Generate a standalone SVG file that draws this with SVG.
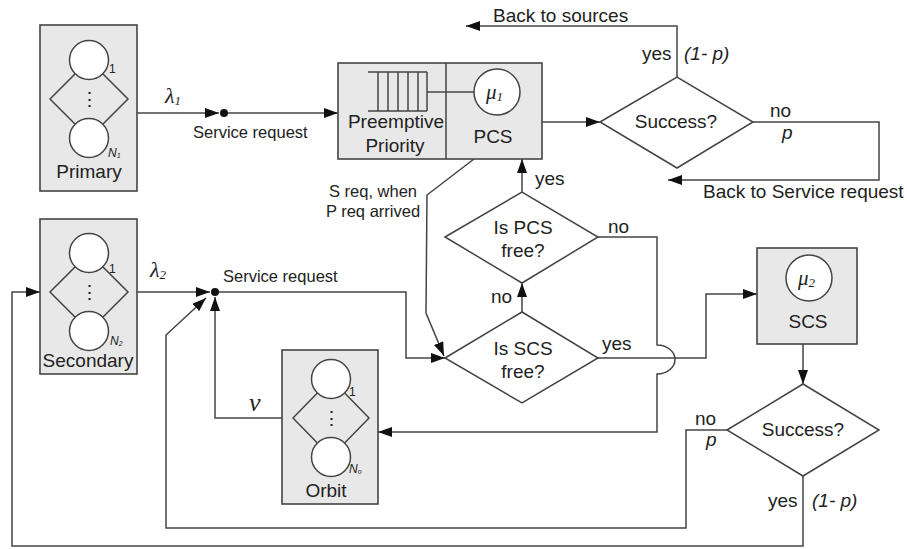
<svg xmlns="http://www.w3.org/2000/svg" width="907" height="549" viewBox="0 0 907 549">
<defs>
<marker id="ar" viewBox="0 0 14 10" refX="14" refY="5" markerWidth="14" markerHeight="10" markerUnits="userSpaceOnUse" orient="auto">
<path d="M0,0 L14,5 L0,10 z" fill="#111"/>
</marker>
<style>
.box{fill:#e8e8e8;stroke:#444;stroke-width:1.6}
.c{fill:#fff;stroke:#444;stroke-width:1.5}
.dm{fill:none;stroke:#444;stroke-width:1.5}
.ln{fill:none;stroke:#444;stroke-width:1.5}
.ar{marker-end:url(#ar)}
.t{font-family:"Liberation Sans",Arial,sans-serif;font-size:19px;fill:#222}
.s{font-size:16.5px}
.m{text-anchor:middle}
.i{font-style:italic}
.g{font-family:"Liberation Serif","Times New Roman",serif;font-style:italic;fill:#222}
.sm{font-family:"Liberation Sans",Arial,sans-serif;font-size:12px;fill:#222}
</style>
</defs>
<rect width="907" height="549" fill="#fff"/>

<g id="connectors">
<polyline class="ln ar" points="137,113 219,113"/>
<polyline class="ln ar" points="224,113 338,113"/>
<polyline class="ln ar" points="542,122 600,122"/>
<polyline class="ln ar" points="677,77 677,26 466,26"/>
<polyline class="ln ar" points="753,122 879,122 879,180 668,180"/>
<polyline class="ln ar" points="522,192 522,159"/>
<polyline class="ln ar" points="522,312 522,283"/>
<path class="ln ar" d="M598,237 H657 V345 A18,14.5 0 0 1 657,374 V432 H378"/>
<polyline class="ln ar" points="598,358 706,358 706,294 757,294"/>
<polyline class="ln ar" points="803,344 803,384"/>
<polyline class="ln ar" points="727,430 686,430 686,528 166,528 166,335 206,298"/>
<polyline class="ln ar" points="803,476 803,546 12,546 12,292 40,292"/>
<polyline class="ln ar" points="128,292 210,292"/>
<polyline class="ln ar" points="215,292 406,292 406,358 445,358"/>
<polyline class="ln ar" points="293,418 215,418 215,297"/>
<polyline class="ln ar" points="474,159 427,195 426,313 444,356"/>
<circle cx="224" cy="113" r="4" fill="#111"/>
<circle cx="215" cy="292" r="4" fill="#111"/>
<text class="t s" x="193" y="138">Service request</text>
<text class="t s" x="223" y="282">Service request</text>
<text class="g" x="165" y="103" font-size="22">λ<tspan font-size="13" dy="2">1</tspan></text>
<text class="g" x="150" y="277" font-size="22">λ<tspan font-size="13" dy="2">2</tspan></text>
<text class="g" x="249" y="411" font-size="26">ν</text>
<text class="t s m" x="373" y="197">S req, when</text>
<text class="t s m" x="373" y="217">P req arrived</text>
<text class="t" x="535" y="185">yes</text>
<text class="t" x="608" y="233">no</text>
<text class="t" x="491" y="303">no</text>
<text class="t" x="602" y="350">yes</text>
<text class="t" x="493" y="22">Back to sources</text>
<text class="t" x="642" y="60">yes</text>
<text class="t i" x="684" y="60" font-size="18">(1- p)</text>
<text class="t" x="770" y="117">no</text>
<text class="t i" x="782" y="139" font-size="18">p</text>
<text class="t" x="703" y="198">Back to Service request</text>
<text class="t" x="695" y="425">no</text>
<text class="t i" x="706" y="446" font-size="18">p</text>
<text class="t" x="768" y="507">yes</text>
<text class="t i" x="812" y="507" font-size="18">(1- p)</text>
</g>

<g id="primary">
<rect class="box" x="40" y="25" width="97" height="166"/>
<polygon class="dm" points="50,99 89,60 128,99 89,138"/>
<circle class="c" cx="89" cy="60" r="19.5"/>
<circle class="c" cx="89" cy="138" r="19.5"/>
<text class="t m" x="89" y="106" font-size="18">⋮</text>
<text class="sm" x="109" y="73">1</text>
<text class="sm i" x="108" y="157">N<tspan font-size="7" dy="1">1</tspan></text>
<text class="t m" x="89" y="178">Primary</text>
</g>

<g id="secondary">
<rect class="box" x="40" y="219" width="97" height="155"/>
<polygon class="dm" points="50,292 89,253 128,292 89,331"/>
<circle class="c" cx="89" cy="253" r="19.5"/>
<circle class="c" cx="89" cy="331" r="19.5"/>
<text class="t m" x="89" y="299" font-size="18">⋮</text>
<text class="sm" x="109" y="273">1</text>
<text class="sm i" x="110" y="345" font-size="11">N<tspan font-size="7" dy="1">2</tspan></text>
<text class="t m" x="88" y="367">Secondary</text>
</g>

<g id="orbit">
<rect class="box" x="282" y="350" width="96" height="154"/>
<polygon class="dm" points="293,418 331,379 369,418 331,457"/>
<circle class="c" cx="331" cy="379" r="19.5"/>
<circle class="c" cx="331" cy="457" r="19.5"/>
<text class="t m" x="331" y="425" font-size="18">⋮</text>
<text class="sm" x="349" y="396">1</text>
<text class="sm i" x="349" y="473">N<tspan font-size="7" dy="1">o</tspan></text>
<text class="t m" x="326" y="497">Orbit</text>
</g>

<g id="pcs">
<rect class="box" x="338" y="63" width="204" height="96"/>
<line class="ln" x1="446" y1="63" x2="446" y2="159"/>
<path class="ln" d="M368,72 H427 M368,111 H427 M378,72 V111 M388,72 V111 M398,72 V111 M408,72 V111 M418,72 V111 M427,72 V111 M427,92 H474"/>
<circle class="c" cx="497" cy="92" r="23"/>
<text class="g" x="486" y="99" font-size="21">μ<tspan font-size="13" dy="2">1</tspan></text>
<text class="t m" x="396" y="128">Preemptive</text>
<text class="t m" x="395" y="152">Priority</text>
<text class="t m" x="493" y="143">PCS</text>
</g>

<g id="success1">
<polygon class="dm" points="600,122 677,77 753,122 677,168"/>
<text class="t m" x="676" y="128">Success?</text>
</g>

<g id="ispcs">
<polygon class="dm" points="445,237 522,192 598,237 522,283"/>
<text class="t m" x="523" y="234">Is PCS</text>
<text class="t m" x="523" y="257">free?</text>
</g>

<g id="isscs">
<polygon class="dm" points="445,358 522,312 598,358 522,403"/>
<text class="t m" x="523" y="355">Is SCS</text>
<text class="t m" x="523" y="378">free?</text>
</g>

<g id="scs">
<rect class="box" x="757" y="248" width="100" height="96"/>
<circle class="c" cx="809" cy="278" r="23"/>
<text class="g" x="798" y="285" font-size="21">μ<tspan font-size="13" dy="2">2</tspan></text>
<text class="t m" x="808" y="328">SCS</text>
</g>

<g id="success2">
<polygon class="dm" points="727,430 803,384 879,430 803,476"/>
<text class="t m" x="803" y="436">Success?</text>
</g>
</svg>
